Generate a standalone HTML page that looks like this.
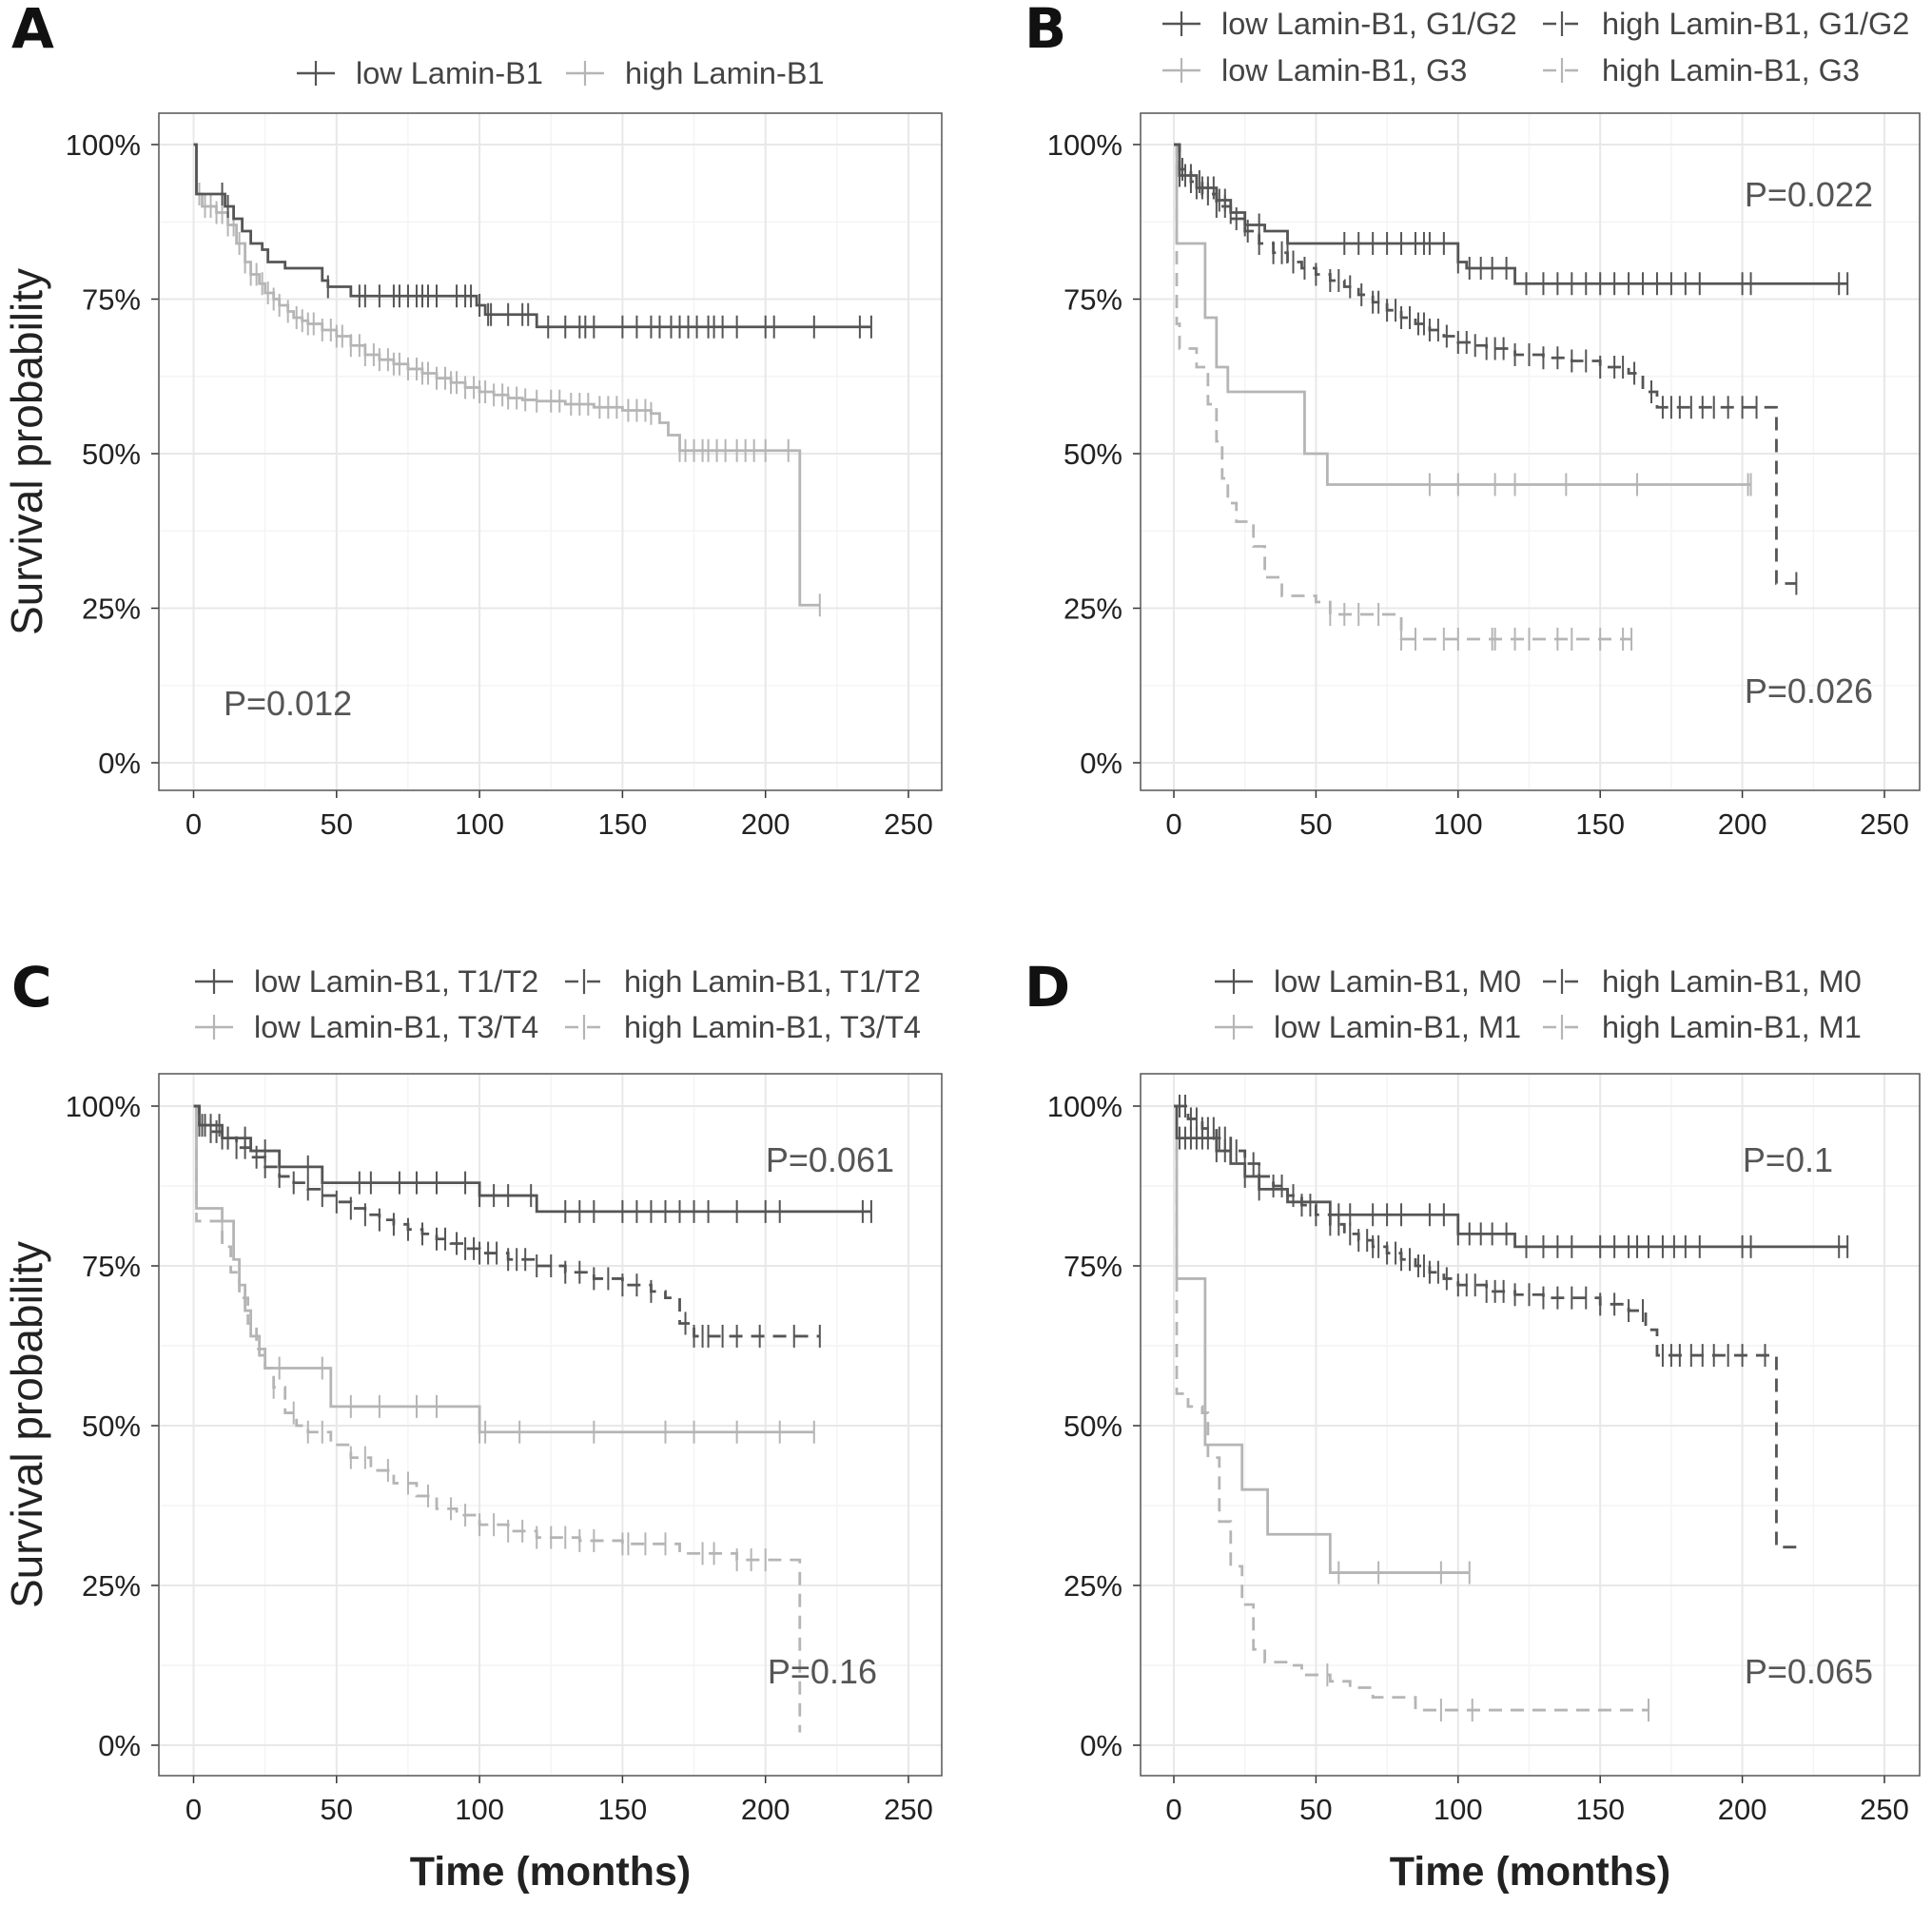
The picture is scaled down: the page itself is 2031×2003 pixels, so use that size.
<!DOCTYPE html>
<html><head><meta charset="utf-8"><style>
html,body{margin:0;padding:0;background:#fff}
svg{display:block;font-family:"Liberation Sans",sans-serif}
</style></head><body>
<svg id="chart" width="2031" height="2003" viewBox="0 0 2031 2003"></svg>
<script>
// ---------- DATA ----------
// Panel A
const aLowT=[0,1,11,14,17,20,24,26,32,45,47,55,99,102,120];
const aLowS=[1,0.92,0.90,0.88,0.86,0.84,0.83,0.81,0.80,0.78,0.77,0.755,0.74,0.725,0.705];
const aLowEnd=237;
const aLowC=[10,12,47,58,60,65,70,72,75,78,80,82,85,92,95,97,100,103,104,110,115,117,124,130,135,137,140,150,155,160,163,167,170,173,176,180,182,185,190,200,203,217,233,237];
const aHighT=[0,1,3,8,12,15,18,20,23,25,28,30,33,35,38,40,45,50,55,60,65,70,75,80,85,90,95,100,105,110,115,120,130,140,150,160,163,166,170,212];
const aHighS=[1,0.92,0.90,0.89,0.87,0.84,0.81,0.79,0.775,0.76,0.75,0.74,0.73,0.72,0.715,0.71,0.70,0.69,0.675,0.66,0.652,0.645,0.637,0.63,0.622,0.615,0.607,0.60,0.595,0.59,0.587,0.585,0.58,0.575,0.57,0.565,0.55,0.53,0.505,0.255];
const aHighEnd=219;
const aHighC=[2,4,6,8,10,12,14,16,18,20,22,24,26,28,30,33,36,38,40,42,45,48,50,52,55,58,60,63,65,68,70,72,75,78,80,82,85,88,90,92,95,98,100,102,105,108,110,113,116,120,125,128,132,135,138,142,145,148,152,155,158,160,170,172,175,178,180,183,186,190,193,196,200,208,219];
// Panel B
const bLowGT=[0,2,8,15,20,25,32,40,100,103,120];
const bLowGS=[1,0.95,0.93,0.91,0.89,0.87,0.86,0.84,0.81,0.80,0.775];
const bLowGEnd=237;
const bLowGC=[2,4,6,8,10,12,14,16,18,20,25,30,40,60,65,70,75,80,85,88,90,95,100,104,108,112,117,124,130,135,140,145,150,155,160,165,170,175,180,185,200,203,234,237];
const bHighGT=[0,2,6,10,15,20,25,30,35,40,45,50,55,60,65,70,75,80,85,90,95,100,105,110,120,130,140,150,160,165,170,212];
const bHighGS=[1,0.96,0.94,0.92,0.90,0.88,0.86,0.84,0.825,0.81,0.80,0.79,0.78,0.77,0.757,0.745,0.732,0.72,0.71,0.70,0.69,0.68,0.675,0.67,0.66,0.655,0.65,0.64,0.63,0.60,0.575,0.29];
const bHighGEnd=219;
const bHighGC=[3,6,9,12,15,18,22,26,30,35,38,42,46,50,55,58,62,66,70,72,75,78,80,83,86,88,90,93,96,100,103,106,110,113,116,120,125,130,135,140,145,150,155,158,162,168,172,175,178,182,186,190,195,200,205,219];
const bLowHT=[0,1,11,15,19,46,54];
const bLowHS=[1,0.84,0.72,0.64,0.60,0.50,0.45];
const bLowHEnd=203;
const bLowHC=[90,100,113,120,138,163,202,203];
const bHighHT=[0,1,2,8,12,15,17,19,22,28,32,38,50,55,80];
const bHighHS=[1,0.71,0.67,0.64,0.58,0.52,0.46,0.42,0.39,0.35,0.30,0.27,0.26,0.24,0.22];
const bHighHEnd=161;
const bHighHC=[55,60,65,72,80,85,95,100,112,113,120,125,135,140,150,158,161];
const bHighHS2=0.20;
// Panel C
const cLowAT=[0,2,10,20,30,45,100,120];
const cLowAS=[1,0.97,0.95,0.93,0.905,0.88,0.86,0.835];
const cLowAEnd=237;
const cLowAC=[3,6,9,12,18,25,40,58,62,72,78,85,95,100,105,110,118,130,135,140,150,155,160,165,170,175,180,190,200,205,234,237];
const cHighAT=[0,2,6,10,15,20,25,30,35,40,45,50,55,60,65,70,75,80,85,90,95,100,110,120,130,140,150,160,165,170,175];
const cHighAS=[1,0.97,0.96,0.95,0.935,0.92,0.905,0.89,0.88,0.87,0.86,0.85,0.84,0.83,0.822,0.815,0.807,0.80,0.792,0.785,0.777,0.77,0.76,0.75,0.74,0.73,0.72,0.71,0.70,0.66,0.64];
const cHighAEnd=219;
const cHighAC=[2,4,6,8,10,12,15,18,22,25,30,35,40,45,50,55,60,65,70,75,80,85,88,92,95,98,100,103,106,110,113,116,120,125,130,135,140,145,150,155,160,172,175,178,180,185,190,198,210,219];
const cLowBT=[0,1,10,14,16,18,20,23,25,48,100];
const cLowBS=[1,0.84,0.82,0.76,0.72,0.68,0.64,0.61,0.59,0.53,0.49];
const cLowBEnd=217;
const cLowBC=[10,30,45,55,65,78,85,100,102,114,140,165,175,190,205,217];
const cHighBT=[0,1,10,13,16,19,22,25,28,32,36,40,48,55,62,70,78,85,92,100,110,120,135,150,170,190,212];
const cHighBS=[1,0.82,0.78,0.74,0.70,0.66,0.62,0.59,0.56,0.52,0.50,0.49,0.47,0.45,0.43,0.41,0.39,0.37,0.36,0.345,0.335,0.325,0.32,0.315,0.30,0.29,0.02];
const cHighBEnd=212;
const cHighBC=[20,28,35,40,45,55,60,68,75,82,90,95,100,105,110,115,120,125,130,135,140,150,152,158,165,178,182,190,195,200];
// Panel D
const dLowAT=[0,1,15,20,25,30,40,55,100,104,120];
const dLowAS=[1,0.95,0.93,0.91,0.89,0.87,0.85,0.83,0.80,0.80,0.78];
const dLowAEnd=237;
const dLowAC=[2,4,6,8,10,12,15,18,25,30,58,62,70,75,80,90,95,100,104,108,112,117,124,130,135,140,150,155,160,163,167,172,176,180,185,200,203,234,237];
const dHighAT=[0,5,10,15,20,25,30,35,40,45,50,55,60,65,70,75,80,85,90,95,100,110,120,130,150,160,166,170,212];
const dHighAS=[1,0.98,0.965,0.95,0.93,0.91,0.89,0.875,0.86,0.845,0.83,0.815,0.80,0.79,0.78,0.77,0.76,0.75,0.74,0.73,0.72,0.71,0.705,0.70,0.69,0.68,0.65,0.61,0.31];
const dHighAEnd=219;
const dHighAC=[2,4,6,8,10,12,14,16,18,20,22,25,28,30,35,38,42,45,48,50,55,58,62,65,68,70,72,75,78,80,83,86,88,90,93,96,100,103,106,110,113,116,120,125,130,135,140,145,150,155,160,165,172,175,178,182,186,190,195,200,208];
const dLowBT=[0,1,11,24,33,55];
const dLowBS=[1,0.73,0.47,0.40,0.33,0.27];
const dLowBEnd=104;
const dLowBC=[58,72,94,104];
const dHighBT=[0,1,5,10,12,16,20,24,28,32,40,45,55,62,70,85];
const dHighBS=[1,0.55,0.53,0.52,0.45,0.35,0.28,0.22,0.15,0.13,0.125,0.11,0.10,0.09,0.075,0.055];
const dHighBEnd=167;
const dHighBC=[54,94,105,167];
// Ticks
const xTicks=[0,50,100,150,200,250];
const yTicks=[0,0.25,0.5,0.75,1];
const yTickLabels=["0%","25%","50%","75%","100%"];

// ---------- DRAWING ----------
const svg=document.getElementById('chart');
const NS='http://www.w3.org/2000/svg';
function mk(tag,attrs,parent){const e=document.createElementNS(NS,tag);for(const k in attrs)e.setAttribute(k,attrs[k]);(parent||svg).appendChild(e);return e;}
const DARK='#555', LIGHT='#b5b5b5';

const panels=[
 {id:'a',L:167,R:990,T:119,B:831,x0:203.5,x250:955,y100:152,y0:802,letter:'A',lx:12,ly:50,ylab:true,xlab:false},
 {id:'b',L:1199,R:2018,T:119,B:831,x0:1234,x250:1981,y100:152,y0:802,letter:'B',lx:1077,ly:50,ylab:false,xlab:false},
 {id:'c',L:167,R:990,T:1129,B:1867,x0:203.5,x250:955,y100:1163,y0:1835,letter:'C',lx:12,ly:1058,ylab:true,xlab:true},
 {id:'d',L:1199,R:2018,T:1129,B:1867,x0:1234,x250:1981,y100:1163,y0:1835,letter:'D',lx:1077,ly:1058,ylab:false,xlab:true}
];
function axes(p){
  const g=mk('g',{});
  
  
  p.g=g;
  p.sx=t=>p.x0+t*(p.x250-p.x0)/250;
  p.sy=s=>p.y0-s*(p.y0-p.y100);
  mk('rect',{x:p.L,y:p.T,width:p.R-p.L,height:p.B-p.T,fill:'#fff'},g);
  for(let i=0;i<xTicks.length;i++){const m=xTicks[i]+25;const x=p.sx(m);if(x<p.R)mk('line',{x1:x,x2:x,y1:p.T,y2:p.B,stroke:'#f4f4f4','stroke-width':1.5},g);}
  for(let i=0;i<yTicks.length-1;i++){const y=p.sy(yTicks[i]+0.125);mk('line',{x1:p.L,x2:p.R,y1:y,y2:y,stroke:'#f4f4f4','stroke-width':1.5},g);}
  xTicks.forEach(t=>{const x=p.sx(t);mk('line',{x1:x,x2:x,y1:p.T,y2:p.B,stroke:'#e8e8e8','stroke-width':2},g);
    mk('line',{x1:x,x2:x,y1:p.B,y2:p.B+8,stroke:'#333','stroke-width':1.5},g);
    const tx=mk('text',{x:x,y:p.B+46,'text-anchor':'middle','font-size':31,fill:'#222'},g);tx.textContent=t;
    
    });
  yTicks.forEach((v,i)=>{const y=p.sy(v);mk('line',{x1:p.L,x2:p.R,y1:y,y2:y,stroke:'#e8e8e8','stroke-width':2},g);
    mk('line',{x1:p.L-8,x2:p.L,y1:y,y2:y,stroke:'#333','stroke-width':1.5},g);
    const tx=mk('text',{x:p.L-19,y:y+11,'text-anchor':'end','font-size':31,fill:'#222'},g);tx.textContent=yTickLabels[i];
    
    });
  mk('rect',{x:p.L,y:p.T,width:p.R-p.L,height:p.B-p.T,fill:'none',stroke:'#555','stroke-width':1.5},g);
  const lt=mk('text',{x:p.lx,y:p.ly,'font-size':58,'font-weight':'bold',fill:'#111',style:'font-family:"DejaVu Sans",sans-serif'},g);lt.textContent=p.letter;
  
  
  if(p.ylab){const cy=(p.T+p.B)/2;const yt=mk('text',{x:44,y:cy,'text-anchor':'middle','font-size':46,fill:'#222',transform:`rotate(-90 44 ${cy})`},g);yt.textContent='Survival probability';
    
    }
  if(p.xlab){const xt=mk('text',{x:(p.L+p.R)/2,y:1982,'text-anchor':'middle','font-size':43,'font-weight':'bold',fill:'#222'},g);xt.textContent='Time (months)';
    
    }
}
panels.forEach(axes);

function curve(p,T,S,end,C,color,dash,name,finalS){
  const Tt=T.slice(),Ss=S.slice();
  if(finalS!==undefined){Tt.push(80);Ss.push(finalS);}
  let d=`M${p.sx(Tt[0])},${p.sy(Ss[0])}`;
  for(let i=1;i<Tt.length;i++){d+=`H${p.sx(Tt[i])}V${p.sy(Ss[i])}`;}
  d+=`H${p.sx(end)}`;
  const path=mk('path',{d:d,fill:'none',stroke:color,'stroke-width':2.8,'stroke-dasharray':dash?'14,9':'none'},p.g);
  
  
  const sv=t=>{let s=Ss[0];for(let i=0;i<Tt.length;i++){if(Tt[i]<=t)s=Ss[i];}return s;};
  C.forEach(t=>{const x=p.sx(t),y=p.sy(sv(t));
    const c=mk('line',{x1:x,x2:x,y1:y-12,y2:y+12,stroke:color,'stroke-width':2},p.g);
    
    });
}
const [A,B,Cp,D]=panels;
curve(A,aHighT,aHighS,aHighEnd,aHighC,LIGHT,false,'high-lamin');
curve(A,aLowT,aLowS,aLowEnd,aLowC,DARK,false,'low-lamin');
curve(B,bHighHT,bHighHS,bHighHEnd,bHighHC,LIGHT,true,'high-g3',bHighHS2);
curve(B,bLowHT,bLowHS,bLowHEnd,bLowHC,LIGHT,false,'low-g3');
curve(B,bHighGT,bHighGS,bHighGEnd,bHighGC,DARK,true,'high-g1g2');
curve(B,bLowGT,bLowGS,bLowGEnd,bLowGC,DARK,false,'low-g1g2');
curve(Cp,cHighBT,cHighBS,cHighBEnd,cHighBC,LIGHT,true,'high-t3t4');
curve(Cp,cLowBT,cLowBS,cLowBEnd,cLowBC,LIGHT,false,'low-t3t4');
curve(Cp,cHighAT,cHighAS,cHighAEnd,cHighAC,DARK,true,'high-t1t2');
curve(Cp,cLowAT,cLowAS,cLowAEnd,cLowAC,DARK,false,'low-t1t2');
curve(D,dHighBT,dHighBS,dHighBEnd,dHighBC,LIGHT,true,'high-m1');
curve(D,dLowBT,dLowBS,dLowBEnd,dLowBC,LIGHT,false,'low-m1');
curve(D,dHighAT,dHighAS,dHighAEnd,dHighAC,DARK,true,'high-m0');
curve(D,dLowAT,dLowAS,dLowAEnd,dLowAC,DARK,false,'low-m0');

function ptext(x,y,txt,anchor){const t=mk('text',{x:x,y:y,'font-size':36,fill:'#555','text-anchor':anchor||'end'});t.textContent=txt;
  
  }
ptext(235,752,'P=0.012','start');
ptext(1969,217,'P=0.022');ptext(1969,739,'P=0.026');
ptext(940,1232,'P=0.061');ptext(922,1770,'P=0.16');
ptext(1927,1232,'P=0.1');ptext(1969,1770,'P=0.065');

function legend(x,y,label,color,dash){
  const g=mk('g',{});
  
  
  mk('line',{x1:x,x2:x+40,y1:y,y2:y,stroke:color,'stroke-width':2.6,'stroke-dasharray':dash?'14,9':'none'},g);
  mk('line',{x1:x+20,x2:x+20,y1:y-13,y2:y+13,stroke:color,'stroke-width':2.2},g);
  const t=mk('text',{x:x+62,y:y+11,'font-size':32.5,fill:'#444'},g);t.textContent=label;
}
legend(312,77,'low Lamin-B1',DARK,false);legend(595,77,'high Lamin-B1',LIGHT,false);
legend(1222,25,'low Lamin-B1, G1/G2',DARK,false);legend(1622,25,'high Lamin-B1, G1/G2',DARK,true);
legend(1222,74,'low Lamin-B1, G3',LIGHT,false);legend(1622,74,'high Lamin-B1, G3',LIGHT,true);
legend(205,1032,'low Lamin-B1, T1/T2',DARK,false);legend(594,1032,'high Lamin-B1, T1/T2',DARK,true);
legend(205,1080,'low Lamin-B1, T3/T4',LIGHT,false);legend(594,1080,'high Lamin-B1, T3/T4',LIGHT,true);
legend(1277,1032,'low Lamin-B1, M0',DARK,false);legend(1622,1032,'high Lamin-B1, M0',DARK,true);
legend(1277,1080,'low Lamin-B1, M1',LIGHT,false);legend(1622,1080,'high Lamin-B1, M1',LIGHT,true);
</script>
</body></html>
